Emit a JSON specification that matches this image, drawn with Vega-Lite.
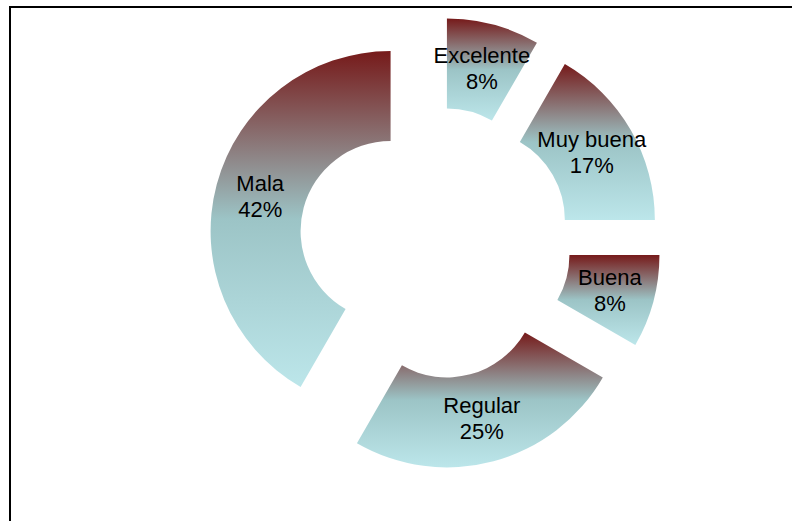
{
  "$schema": "https://vega.github.io/schema/vega-lite/v6.json",
  "width": 792,
  "height": 521,
  "autosize": {"type": "fit", "contains": "padding"},
  "padding": {"left": 10, "top": 7, "right": 0, "bottom": 0},
  "background": "white",
  "view": {"stroke": "black", "strokeWidth": 2, "strokeDash": [782, 1296, 516, 0], "fill": null},
  "data": {
    "values": [
      {"categoria": "Excelente", "n": 1, "etiqueta": "Excelente\n8%"},
      {"categoria": "Muy buena", "n": 2, "etiqueta": "Muy buena\n17%"},
      {"categoria": "Buena", "n": 1, "etiqueta": "Buena\n8%"},
      {"categoria": "Regular", "n": 3, "etiqueta": "Regular\n25%"},
      {"categoria": "Mala", "n": 5, "etiqueta": "Mala\n42%"}
    ]
  },
  "encoding": {
    "theta": {"field": "n", "type": "quantitative", "stack": true}
  },
  "layer": [
    {
      "mark": {
        "type": "arc",
        "innerRadius": 90,
        "outerRadius": 180,
        "x": {"expr": "width*0.5435 + 46*sin(scale('theta', (datum.n_start + datum.n_end)/2))"},
        "y": {"expr": "height*0.4591 - 46*cos(scale('theta', (datum.n_start + datum.n_end)/2))"},
        "color": {
          "gradient": "linear",
          "x1": 0, "y1": 0, "x2": 0, "y2": 1,
          "stops": [
            {"offset": 0, "color": "#761a1a"},
            {"offset": 0.5, "color": "#9cc4c6"},
            {"offset": 1, "color": "#bce6ea"}
          ]
        }
      }
    },
    {
      "mark": {
        "type": "text",
        "radius": 135,
        "font": "Liberation Sans",
        "fontSize": 22,
        "lineBreak": "\n",
        "lineHeight": 26,
        "align": "center",
        "baseline": "middle",
        "dy": -12,
        "color": "black",
        "text": {"expr": "datum.etiqueta"},
        "x": {"expr": "width*0.5435 + 46*sin(scale('theta', (datum.n_start + datum.n_end)/2))"},
        "y": {"expr": "height*0.4591 - 46*cos(scale('theta', (datum.n_start + datum.n_end)/2))"}
      }
    }
  ]
}
